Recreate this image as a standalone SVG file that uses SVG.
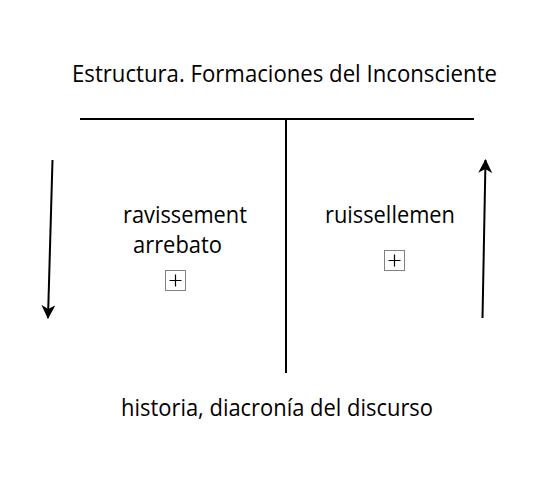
<svg xmlns="http://www.w3.org/2000/svg" width="542" height="480" viewBox="0 0 542 480">
<style>
.t{font-family:"Open Sans","Noto Sans",sans-serif;font-size:23.5px;fill:#000}
.ln{stroke:#000;stroke-width:2;fill:none}
.box{fill:#fff;stroke:#808080;stroke-width:1}
.plus{stroke:#000;stroke-width:1.2}
</style>
<defs>
<marker id="ah" markerWidth="14" markerHeight="14" viewBox="0 0 14 14" refX="13" refY="7" orient="auto" markerUnits="userSpaceOnUse">
<path d="M0,0 L14,7 L0,14 L4,7 Z" fill="#000"/>
</marker>
</defs>
<rect width="542" height="480" fill="#fff"/>
<g id="title"><text class="t" x="72" y="82" textLength="425" lengthAdjust="spacingAndGlyphs">Estructura. Formaciones del Inconsciente</text></g>
<g id="bottom"><text class="t" x="121" y="416" textLength="312" lengthAdjust="spacingAndGlyphs">historia, diacronía del discurso</text></g>
<g id="left-node">
<text class="t" x="123" y="223" textLength="124" lengthAdjust="spacingAndGlyphs">ravissement</text>
<text class="t" x="133" y="253" textLength="89" lengthAdjust="spacingAndGlyphs">arrebato</text>
<rect class="box" x="165.5" y="270.5" width="20" height="20"/>
<path class="plus" d="M169.5,280.5 H181.5 M175.5,274.5 V286.5"/>
</g>
<g id="right-node">
<text class="t" x="325" y="223" textLength="130" lengthAdjust="spacingAndGlyphs">ruissellemen</text>
<rect class="box" x="384.5" y="250.5" width="20" height="20"/>
<path class="plus" d="M388.5,260.5 H400.5 M394.5,254.5 V266.5"/>
</g>
<g id="connectors">
<path class="ln" d="M80,119 H474"/>
<path class="ln" d="M286,119 V373"/>
<path class="ln" d="M52.5,160 L48,318" marker-end="url(#ah)"/>
<path class="ln" d="M482.5,318 L485.5,160" marker-end="url(#ah)"/>
</g>
</svg>
